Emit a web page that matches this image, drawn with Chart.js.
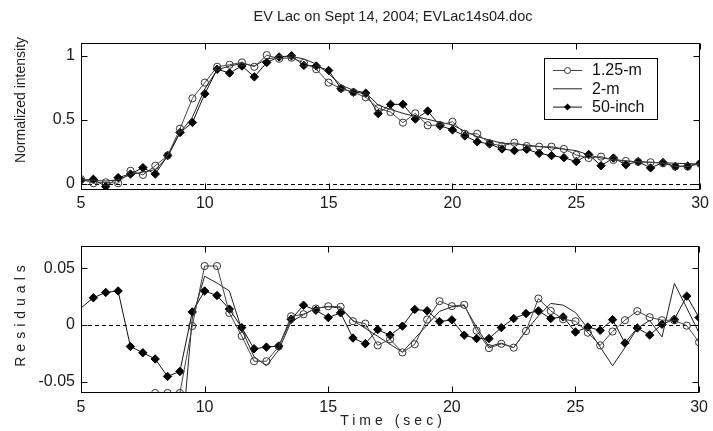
<!DOCTYPE html>
<html>
<head>
<meta charset="utf-8">
<script src="https://cdn.jsdelivr.net/npm/chart.js@4.4.1/dist/chart.umd.min.js"></script>
<style>
  html, body { margin: 0; padding: 0; background: #fff; }
  #wrap { position: relative; width: 713px; height: 431px; overflow: hidden; }
  canvas { position: absolute; left: 0; }
  #top { top: 0; }
  #bottom { top: 230px; }
</style>
</head>
<body>
<div id="wrap">
  <canvas id="top" width="713" height="230"></canvas>
  <canvas id="bottom" width="713" height="201"></canvas>
</div>
<script>
// time (sec) for the light curves
const times = [5, 5.5, 6, 6.5, 7, 7.5, 8, 8.5, 9, 9.5, 10, 10.5, 11, 11.5, 12, 12.5, 13, 13.5, 14, 14.5,
  15, 15.5, 16, 16.5, 17, 17.5, 18, 18.5, 19, 19.5, 20, 20.5, 21, 21.5, 22, 22.5, 23, 23.5, 24, 24.5,
  25, 25.5, 26, 26.5, 27, 27.5, 28, 28.5, 29, 29.5, 30];

const norm125 = [0.035, 0.003, 0.01, 0.003, 0.10, 0.068, 0.14, 0.22, 0.43, 0.667,
  0.79, 0.914, 0.93, 0.948, 0.914, 1.005, 0.977, 0.985, 0.945, 0.895,
  0.79, 0.745, 0.715, 0.675, 0.59, 0.56, 0.477, 0.55, 0.456, 0.458,
  0.484, 0.39, 0.39, 0.315, 0.294, 0.32, 0.294, 0.289, 0.289, 0.271,
  0.224, 0.2, 0.211, 0.185, 0.177, 0.17, 0.167, 0.159, 0.133, 0.133, 0.156];

const norm2m = [0.03, 0.025, 0.02, 0.03, 0.07, 0.09, 0.11, 0.21, 0.40, 0.52,
  0.74, 0.89, 0.92, 0.94, 0.92, 0.975, 0.99, 0.995, 0.975, 0.935,
  0.86, 0.77, 0.73, 0.71, 0.615, 0.58, 0.55, 0.525, 0.503, 0.48,
  0.459, 0.41, 0.367, 0.341, 0.316, 0.31, 0.302, 0.29, 0.28, 0.27,
  0.258, 0.224, 0.2, 0.19, 0.177, 0.17, 0.167, 0.163, 0.159, 0.156, 0.154];

const norm50 = [0.025, 0.034, -0.023, 0.047, 0.075, 0.125, 0.075, 0.22, 0.40, 0.478,
  0.703, 0.895, 0.865, 0.92, 0.835, 0.948, 0.991, 1.0, 0.925, 0.92,
  0.885, 0.743, 0.714, 0.708, 0.548, 0.62, 0.62, 0.505, 0.568, 0.453,
  0.42, 0.373, 0.327, 0.31, 0.271, 0.258, 0.268, 0.237, 0.219, 0.203,
  0.172, 0.228, 0.14, 0.2, 0.148, 0.172, 0.123, 0.165, 0.135, 0.138, 0.159];

// residual times start half a second earlier (50-inch curve enters from the left)
const resTimes = [4.5, 5, 5.5, 6, 6.5, 7, 7.5, 8, 8.5, 9, 9.5, 10, 10.5, 11, 11.5, 12, 12.5, 13, 13.5, 14, 14.5,
  15, 15.5, 16, 16.5, 17, 17.5, 18, 18.5, 19, 19.5, 20, 20.5, 21, 21.5, 22, 22.5, 23, 23.5, 24, 24.5,
  25, 25.5, 26, 26.5, 27, 27.5, 28, 28.5, 29, 29.5, 30];

const res125 = [null, null, null, null, null, null, null, -0.06, -0.06, -0.06, -0.001,
  0.052, 0.052, 0.0106, -0.0097, -0.032, -0.032, -0.019, 0.0077, 0.0095, 0.0145,
  0.0165, 0.016, 0.0033, 0.0012, -0.018, -0.0126, -0.0242, -0.017, 0.0048, 0.021,
  0.0166, 0.0178, -0.005, -0.0204, -0.0166, -0.020, -0.0053, 0.0233, 0.0124, 0.005,
  0.0033, -0.0068, -0.018, -0.0058, 0.0042, 0.0122, 0.0068, 0.0042, 0.0041, -0.0006, -0.0153];

const res2m = [null, null, null, null, null, null, null, null, null, -0.12, 0.006,
  0.043, 0.037, 0.030, -0.004, -0.028, -0.036, -0.022, 0.003, 0.009, 0.015,
  0.016, 0.015, 0.004, -0.003, -0.010, -0.017, -0.024, -0.012, 0.0, 0.012,
  0.016, 0.017, -0.002, -0.019, -0.016, -0.02, -0.005, 0.008, 0.019, 0.0175,
  0.011, -0.003, -0.0195, -0.036, -0.02, -0.003, 0.004, -0.0106, 0.0366, 0.015, -0.007];

const res50 = [0.006, null, 0.024, 0.0287, 0.030, -0.019, -0.0245, -0.030, -0.0454, -0.041, 0.0115,
  0.030, 0.026, 0.014, -0.0023, -0.021, -0.0195, -0.0186, 0.005, 0.0174, 0.013,
  0.0065, 0.0107, -0.0115, -0.0165, -0.0041, -0.009, -0.001, 0.0137, 0.0125, 0.003,
  0.0045, -0.009, -0.012, -0.012, -0.0023, 0.0057, 0.0101, 0.0124, 0.0057, 0.0071,
  -0.0062, -0.0018, -0.0047, 0.0047, -0.0159, -0.0027, -0.0089, 0.0006, 0.005, 0.0254, 0.0065];

const seriesNames = ['1.25-m', '2-m', '50-inch'];
const xTicks = [5, 10, 15, 20, 25, 30];
const topYTicks = [0, 0.5, 1];
const botYTicks = [-0.05, 0, 0.05];

const FONT = '"Liberation Sans", Arial, sans-serif';

function pts(xs, ys) {
  return xs.map((x, i) => ({ x: x, y: ys[i] }));
}

function makeSets(xs, a, b, c) {
  return [
    { label: seriesNames[0], data: pts(xs, a), borderColor: '#444', borderWidth: 1,
      pointStyle: 'circle', pointRadius: 3.6, pointBorderColor: '#333', pointBackgroundColor: 'rgba(0,0,0,0)',
      pointBorderWidth: 1 },
    { label: seriesNames[1], data: pts(xs, b), borderColor: '#222', borderWidth: 1, pointRadius: 0 },
    { label: seriesNames[2], data: pts(xs, c), borderColor: '#111', borderWidth: 1,
      pointStyle: 'rectRot', pointRadius: 4.2, pointBorderColor: '#000', pointBackgroundColor: '#000',
      pointBorderWidth: 1, spanGaps: true }
  ];
}

// MATLAB style box: frame, inward ticks, dashed zero line
const framePlugin = {
  id: 'frame',
  beforeDatasetsDraw(chart) {
    const { ctx, chartArea: a, scales: { y } } = chart;
    const y0 = Math.round(y.getPixelForValue(0)) + 0.5;
    ctx.save();
    ctx.strokeStyle = '#000';
    ctx.lineWidth = 1;
    ctx.setLineDash([4, 3]);
    ctx.beginPath();
    ctx.moveTo(a.left, y0);
    ctx.lineTo(a.right, y0);
    ctx.stroke();
    ctx.restore();
  },
  afterDraw(chart) {
    const { ctx, chartArea: a, scales: { x, y } } = chart;
    const L = Math.round(a.left) + 0.5, R = Math.round(a.right) - 0.5;
    const T = Math.round(a.top) + 0.5, B = Math.round(a.bottom) - 0.5;
    ctx.save();
    ctx.strokeStyle = '#000';
    ctx.lineWidth = 1;
    ctx.strokeRect(L, T, R - L, B - T);
    ctx.beginPath();
    x.ticks.forEach(t => {
      const px = Math.round(x.getPixelForValue(t.value)) + 0.5;
      ctx.moveTo(px, B); ctx.lineTo(px, B - 6);
      ctx.moveTo(px, T); ctx.lineTo(px, T + 6);
    });
    y.ticks.forEach(t => {
      const py = Math.round(y.getPixelForValue(t.value)) + 0.5;
      ctx.moveTo(L, py); ctx.lineTo(L + 6, py);
      ctx.moveTo(R, py); ctx.lineTo(R - 6, py);
    });
    ctx.stroke();
    ctx.restore();
  }
};

// free text: title and axis titles (MATLAB spaced lettering)
const textPlugin = {
  id: 'texts',
  afterDraw(chart, args, opts) {
    const ctx = chart.ctx;
    (opts.items || []).forEach(it => {
      ctx.save();
      ctx.fillStyle = '#222';
      ctx.font = it.size + 'px ' + FONT;
      if ('letterSpacing' in ctx) ctx.letterSpacing = (it.spacing || 0) + 'px';
      ctx.textAlign = 'center';
      ctx.textBaseline = 'middle';
      ctx.translate(it.x, it.y);
      if (it.rotate) ctx.rotate(-Math.PI / 2);
      ctx.fillText(it.text, (it.spacing || 0) / 2, 0);
      ctx.restore();
    });
  }
};

// boxed legend with line + marker samples
const legendPlugin = {
  id: 'boxLegend',
  afterDraw(chart, args, opts) {
    if (!opts.show) return;
    const ctx = chart.ctx;
    ctx.save();
    ctx.fillStyle = '#fff';
    ctx.strokeStyle = '#000';
    ctx.lineWidth = 1;
    ctx.fillRect(544.5, 58.5, 113, 61);
    ctx.strokeRect(544.5, 58.5, 113, 61);
    chart.data.datasets.forEach((ds, i) => {
      const yy = 70.5 + i * 18.3;
      ctx.strokeStyle = ds.borderColor;
      ctx.beginPath();
      ctx.moveTo(553, yy); ctx.lineTo(582, yy);
      ctx.stroke();
      if (ds.pointRadius > 0) {
        ctx.fillStyle = ds.pointBackgroundColor;
        ctx.strokeStyle = ds.pointBorderColor;
        ctx.beginPath();
        if (ds.pointStyle === 'circle') {
          ctx.fillStyle = '#fff';
          ctx.arc(567.5, yy, 3, 0, Math.PI * 2);
          ctx.fill();
          ctx.stroke();
        } else {
          ctx.moveTo(567.5, yy - 3.5); ctx.lineTo(571, yy); ctx.lineTo(567.5, yy + 3.5); ctx.lineTo(564, yy);
          ctx.closePath();
          ctx.fill();
        }
      }
      ctx.fillStyle = '#111';
      ctx.font = '16px ' + FONT;
      ctx.textAlign = 'left';
      ctx.textBaseline = 'middle';
      ctx.fillText(ds.label, 592, yy + 0.5);
    });
    ctx.restore();
  }
};

function axes(yMin, yMax, yTicks, xHeight, xPad) {
  const tickFont = { family: FONT, size: 16 };
  return {
    x: {
      type: 'linear', min: 5, max: 30,
      afterBuildTicks: s => { s.ticks = xTicks.map(v => ({ value: v })); },
      afterFit: s => { s.height = xHeight; },
      grid: { display: false, drawTicks: false },
      border: { display: false },
      ticks: { font: tickFont, color: '#1a1a1a', padding: xPad, autoSkip: false, maxRotation: 0,
        callback: v => String(v) }
    },
    y: {
      min: yMin, max: yMax,
      afterBuildTicks: s => { s.ticks = yTicks.map(v => ({ value: v })); },
      afterFit: s => { s.width = 81; },
      grid: { display: false, drawTicks: false },
      border: { display: false },
      ticks: { font: tickFont, color: '#1a1a1a', padding: 6, callback: v => String(v) }
    }
  };
}

new Chart(document.getElementById('top'), {
  type: 'line',
  data: { datasets: makeSets(times, norm125, norm2m, norm50) },
  options: {
    responsive: false, animation: false, events: [],
    layout: { padding: { left: 0, right: 9, top: 43, bottom: 0 } },
    elements: { line: { tension: 0 } },
    scales: axes(-0.05, 1.1, topYTicks, 40, 4),
    plugins: {
      legend: { display: false }, tooltip: { enabled: false },
      boxLegend: { show: true },
      texts: { items: [
        { text: 'EV Lac on Sept 14, 2004; EVLac14s04.doc', x: 393, y: 17, size: 14.5 },
        { text: 'Normalized intensity', x: 21, y: 100, size: 14, rotate: true }
      ] }
    }
  },
  plugins: [framePlugin, legendPlugin, textPlugin]
});

new Chart(document.getElementById('bottom'), {
  type: 'line',
  data: { datasets: makeSets(resTimes, res125, res2m, res50) },
  options: {
    responsive: false, animation: false, events: [],
    layout: { padding: { left: 0, right: 9, top: 14, bottom: 0 } },
    elements: { line: { tension: 0 } },
    scales: axes(-0.06, 0.07, botYTicks, 38, 5),
    plugins: {
      legend: { display: false }, tooltip: { enabled: false },
      boxLegend: { show: false },
      texts: { items: [
        { text: 'Residuals', x: 21, y: 86, size: 14, rotate: true, spacing: 5 },
        { text: 'Time (sec)', x: 391, y: 191, size: 14, spacing: 4 }
      ] }
    }
  },
  plugins: [framePlugin, legendPlugin, textPlugin]
});
</script>
</body>
</html>
